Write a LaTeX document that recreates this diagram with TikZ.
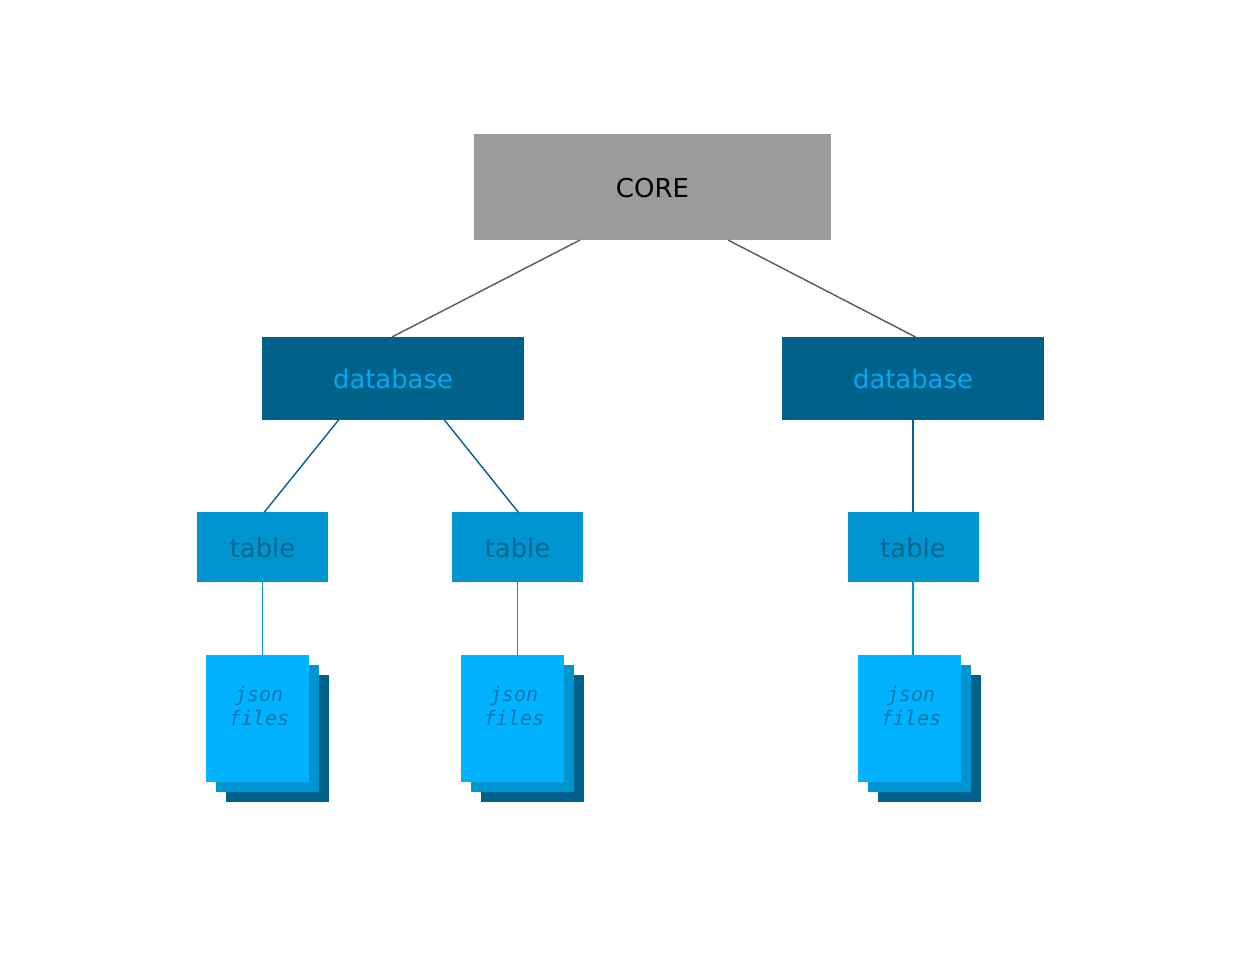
\documentclass[tikz,border=0pt]{standalone}
\usepackage{fontspec}
\setmainfont{DejaVu Sans}
\setmonofont{DejaVu Sans Mono}
\usetikzlibrary{positioning}
\definecolor{coregray}{HTML}{9B9B9B}
\definecolor{dbblue}{HTML}{00628B}
\definecolor{tableblue}{HTML}{0095D1}
\definecolor{fileblue}{HTML}{00B2FF}
\definecolor{dbtext}{HTML}{00AAF2}
\definecolor{tabletext}{HTML}{00668A}
\definecolor{filetext}{HTML}{0078AC}
\tikzset{
    corenode/.style = {rectangle, fill=coregray, minimum width=7.16cm, minimum height=2.12cm, inner sep=0pt, text height=11.4pt, text depth=0pt, font=\fontsize{14.8}{18}\selectfont},
    dbnode/.style = {rectangle, fill=dbblue, text=dbtext, minimum width=5.23cm, minimum height=1.66cm, inner sep=0pt, text height=12.3pt, text depth=0pt, font=\fontsize{14.7}{18}\selectfont},
    tablenode/.style = {rectangle, fill=tableblue, text=tabletext, minimum width=2.62cm, minimum height=1.39cm, inner sep=0pt, text height=12.3pt, text depth=0pt, font=\fontsize{14.7}{18}\selectfont},
    sheet/.style = {rectangle, minimum width=2.06cm, minimum height=2.54cm, inner sep=0pt},
    filetxt/.style = {align=center, text=filetext, inner sep=0pt, font=\ttfamily\itshape\fontsize{11.4}{14.2}\selectfont},
    edgecore/.style = {draw=black!65, line width=0.8pt},
    edgedb/.style = {draw=dbblue, line width=0.8pt},
    edgetable/.style = {draw=tableblue, line width=0.8pt}
}
\begin{document}
\begin{tikzpicture}[x=0.02cm,y=-0.02cm]
\useasboundingbox (0,0) rectangle (1240,978);
\node[corenode] at (652.5, 187) (core) {CORE};
\node[dbnode] at (393, 378) (dba) {database};
\node[dbnode] at (913, 378) (dbb) {database};
\node[tablenode] at (262.5, 547) (tablea) {table};
\node[tablenode] at (517.5, 547) (tableb) {table};
\node[tablenode] at (913, 547) (tablec) {table};
% stacks of files
\node[sheet,fill=dbblue] at (277.5, 738.5) (backa) {};
\node[sheet,fill=tableblue] at (267.5, 728.5) (mida) {};
\node[sheet,fill=fileblue] at (257.5, 718.5) (filesa) {};
\node[filetxt] at (259, 706) (texta) {json\\files};
\node[sheet,fill=dbblue] at (532.5, 738.5) (backb) {};
\node[sheet,fill=tableblue] at (522.5, 728.5) (midb) {};
\node[sheet,fill=fileblue] at (512.5, 718.5) (filesb) {};
\node[filetxt] at (514, 706) (textb) {json\\files};
\node[sheet,fill=dbblue] at (929.5, 738.5) (backc) {};
\node[sheet,fill=tableblue] at (919.5, 728.5) (midc) {};
\node[sheet,fill=fileblue] at (909.5, 718.5) (filesc) {};
\node[filetxt] at (911, 706) (textc) {json\\files};
% off-centre ends
\coordinate (corel) at (580, 240);
\coordinate (corer) at (728, 240);
\coordinate (dbal) at (339, 419.5);
\coordinate (dbar) at (444, 419.5);
\coordinate (tabal) at (264, 512.5);
\coordinate (tabbl) at (518.5, 512.5);
\coordinate (dbal2) at (392, 337);
\coordinate (dbbl) at (915.5, 337);
\draw[edgecore] (corel) -- (dbal2);
\draw[edgecore] (corer) -- (dbbl);
\draw[edgedb] (dbal) -- (tabal);
\draw[edgedb] (dbar) -- (tabbl);
\draw[edgedb] (dbb.south) -- (tablec.north);
\draw[edgetable] (tablea.south) -- (tablea.south |- filesa.north);
\draw[edgetable] (tableb.south) -- (tableb.south |- filesb.north);
\draw[edgetable] (tablec.south) -- (tablec.south |- filesc.north);
\end{tikzpicture}
\end{document}
